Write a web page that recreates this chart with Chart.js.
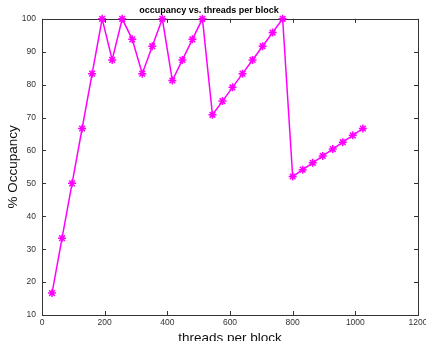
<!DOCTYPE html>
<html><head><meta charset="utf-8">
<script src="https://cdn.jsdelivr.net/npm/chart.js@4"></script>
<style>html,body{margin:0;padding:0;background:#fff}</style>
</head><body>
<canvas id="c" width="426" height="341" style="display:block;width:426px;height:341px"></canvas>
<script>
const threads = [32,64,96,128,160,192,224,256,288,320,352,384,416,448,480,512,544,576,608,640,672,704,736,768,800,832,864,896,928,960,992,1024];
const occupancy = [16.67,33.33,50,66.67,83.33,100,87.5,100,93.75,83.33,91.67,100,81.25,87.5,93.75,100,70.83,75,79.17,83.33,87.5,91.67,95.83,100,52.08,54.17,56.25,58.33,60.42,62.5,64.58,66.67];
const xTicks = [0,200,400,600,800,1000,1200];
const yTicks = [10,20,30,40,50,60,70,80,90,100];
const titleText = 'occupancy vs. threads per block';
const xLabel = 'threads per block';
const yLabel = '% Occupancy';

const FONT = "'Liberation Sans', Arial, Helvetica, sans-serif";

const boxPlugin = {
  id: 'boxPlugin',
  beforeDatasetsDraw(chart) {
    const {ctx, chartArea: {left, right, top, bottom}, scales: {x, y}} = chart;
    ctx.save();
    ctx.strokeStyle = '#333';
    ctx.lineWidth = 1;
    ctx.strokeRect(Math.round(left) + 0.5, Math.round(top) + 0.5, Math.round(right - left), Math.round(bottom - top));
    ctx.beginPath();
    const tl = 4;
    xTicks.forEach(v => {
      const px = Math.round(x.getPixelForValue(v)) + 0.5;
      ctx.moveTo(px, bottom); ctx.lineTo(px, bottom - tl);
      ctx.moveTo(px, top); ctx.lineTo(px, top + tl);
    });
    yTicks.forEach(v => {
      const py = Math.round(y.getPixelForValue(v)) + 0.5;
      ctx.moveTo(left, py); ctx.lineTo(left + tl, py);
      ctx.moveTo(right, py); ctx.lineTo(right - tl, py);
    });
    ctx.stroke();
    ctx.restore();
  }
};

new Chart(document.getElementById('c'), {
  type: 'line',
  data: {
    datasets: [{
      data: threads.map((t, i) => ({x: t, y: occupancy[i]})),
      borderColor: '#ff00ff',
      backgroundColor: '#ff00ff',
      borderWidth: 1.5,
      pointStyle: 'star',
      pointRadius: 4,
      pointBorderWidth: 1.5,
      pointBorderColor: '#ff00ff',
      pointHoverRadius: 4,
      tension: 0,
      fill: false,
      clip: false
    }]
  },
  options: {
    responsive: false,
    animation: false,
    devicePixelRatio: 1,
    layout: {padding: {top: 0, right: 8, bottom: 0, left: 0}},
    plugins: {
      legend: {display: false},
      tooltip: {enabled: false},
      title: {
        display: true,
        text: titleText,
        color: '#000',
        font: {family: FONT, size: 9, weight: 'bold'},
        padding: {top: 5, bottom: 3}
      }
    },
    scales: {
      x: {
        type: 'linear',
        min: 0, max: 1200,
        afterBuildTicks(s) { s.ticks = xTicks.map(v => ({value: v})); },
        afterFit(s) { s.height = 26; s.paddingLeft = 0; s.paddingRight = 0; },
        grid: {display: false, drawTicks: false},
        border: {display: false},
        ticks: {color: '#333', font: {family: FONT, size: 8.5}, padding: 3, maxRotation: 0, autoSkip: false, callback: v => String(v)},
        title: {display: true, text: xLabel, color: '#111', font: {family: FONT, size: 13.5}, padding: {top: 0, bottom: -5}}
      },
      y: {
        min: 10, max: 100,
        afterBuildTicks(s) { s.ticks = yTicks.map(v => ({value: v})); },
        afterFit(s) { s.width = 42; s.paddingTop = 0; s.paddingBottom = 0; },
        grid: {display: false, drawTicks: false},
        border: {display: false},
        ticks: {color: '#333', font: {family: FONT, size: 8.5}, padding: 6, autoSkip: false, callback: v => String(v)},
        title: {display: true, text: yLabel, color: '#111', font: {family: FONT, size: 13.5}, padding: {top: 5, bottom: 0}}
      }
    }
  },
  plugins: [boxPlugin]
});
</script>
</body></html>
